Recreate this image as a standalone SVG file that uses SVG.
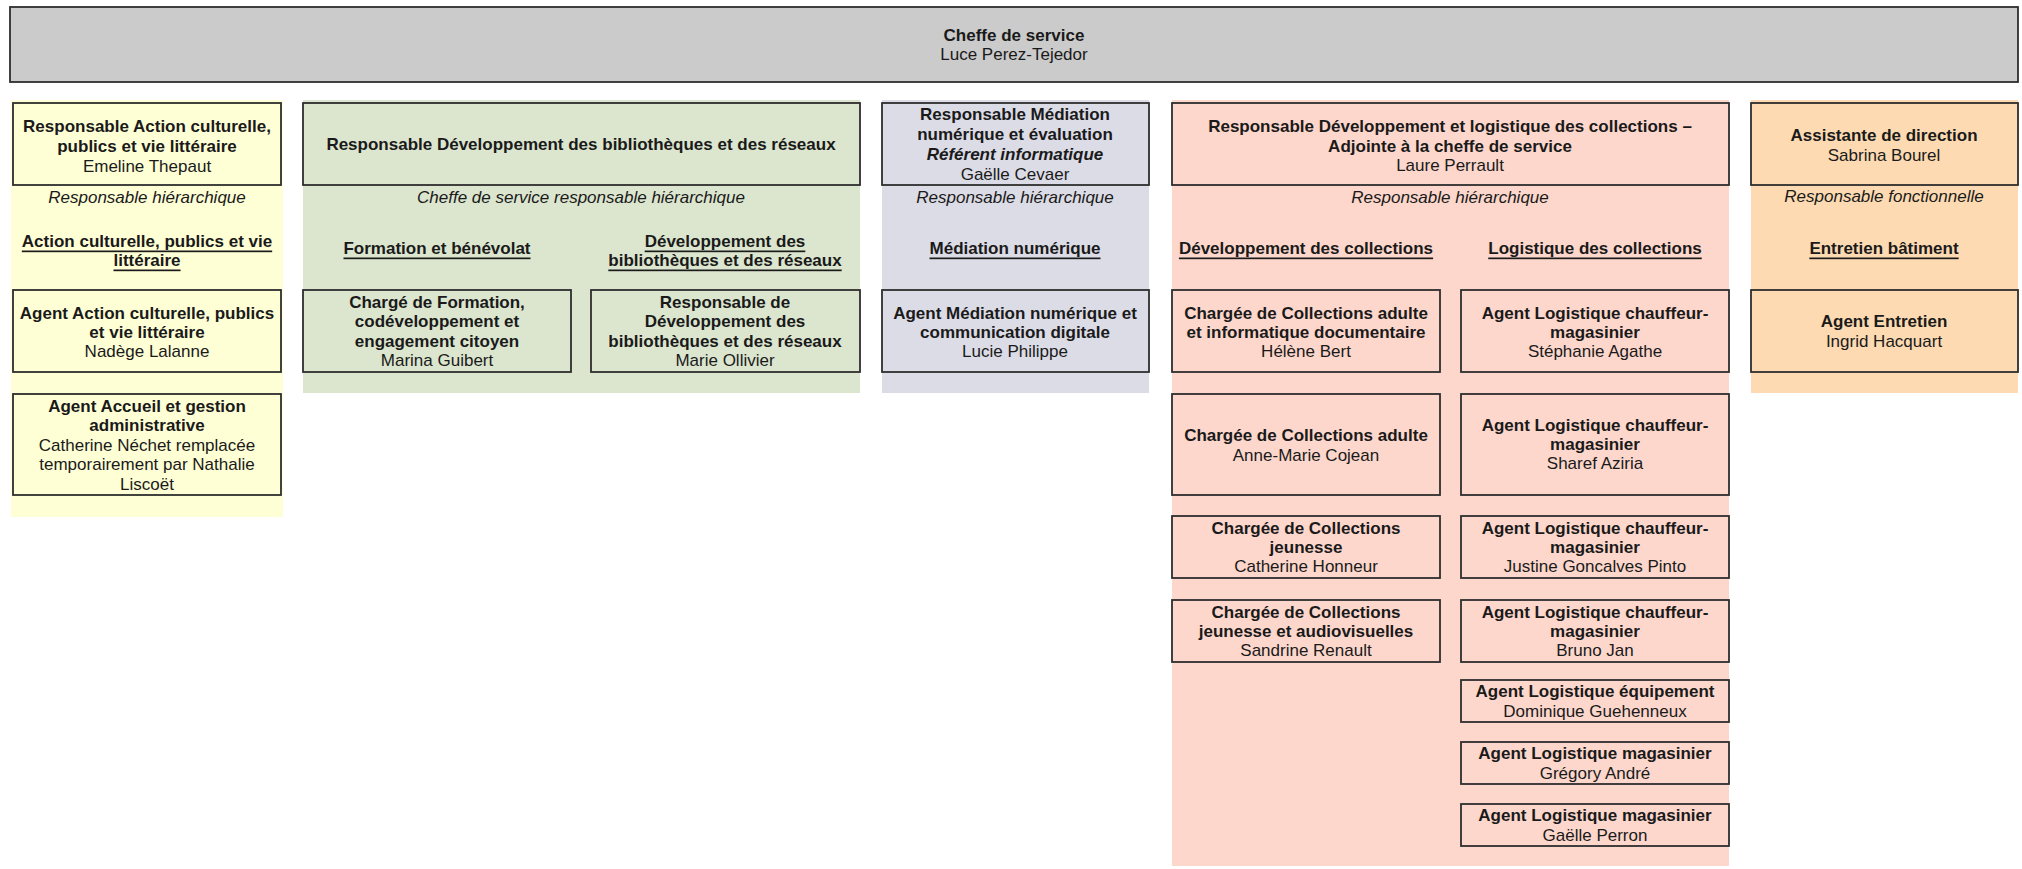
<svg xmlns="http://www.w3.org/2000/svg" width="2022" height="869" viewBox="0 0 2022 869">
<style>
text{font-family:"Liberation Sans",Arial,sans-serif;font-size:17px;fill:#1a1a1a;text-anchor:middle;dominant-baseline:central}
.b{font-weight:bold}
.i{font-style:italic}
.bi{font-weight:bold;font-style:italic}
.u{font-weight:bold;text-decoration:underline}
.box{stroke:#2e2e2e;stroke-width:1.8}
.top{fill:#cbcbcb}
.y{fill:#ffffd6}
.g{fill:#dce6cf}
.l{fill:#dcdce6}
.p{fill:#fdd7cc}
.o{fill:#fddab2}
</style>
<rect width="2022" height="869" fill="#ffffff"/>
<g id="chef">
<rect class="box top" x="10" y="7" width="2008" height="75"/>
<text class="b" x="1014" y="35">Cheffe de service</text>
<text x="1014" y="54">Luce Perez-Tejedor</text>
</g>
<g id="col-action-culturelle">
<rect class="y" x="11" y="100" width="272" height="417"/>
<g id="resp-action-culturelle">
<rect class="box y" x="13" y="103" width="268" height="82"/>
<text class="b" x="147" y="126">Responsable Action culturelle,</text>
<text class="b" x="147" y="146">publics et vie littéraire</text>
<text x="147" y="166">Emeline Thepaut</text>
</g>
<text class="i" x="147" y="197">Responsable hiérarchique</text>
<text class="u" x="147" y="241">Action culturelle, publics et vie</text>
<text class="u" x="147" y="260">littéraire</text>
<g id="agent-action-culturelle">
<rect class="box y" x="13" y="290" width="268" height="82"/>
<text class="b" x="147" y="313">Agent Action culturelle, publics</text>
<text class="b" x="147" y="332">et vie littéraire</text>
<text x="147" y="351">Nadège Lalanne</text>
</g>
<g id="agent-accueil">
<rect class="box y" x="13" y="394" width="268" height="101"/>
<text class="b" x="147" y="406">Agent Accueil et gestion</text>
<text class="b" x="147" y="425.5">administrative</text>
<text x="147" y="445">Catherine Néchet remplacée</text>
<text x="147" y="464.5">temporairement par Nathalie</text>
<text x="147" y="484">Liscoët</text>
</g>
</g>
<g id="col-developpement-bibliotheques">
<rect class="g" x="303" y="100" width="557" height="293"/>
<g id="resp-developpement-bibliotheques">
<rect class="box g" x="303" y="103" width="557" height="82"/>
<text class="b" x="581" y="144">Responsable Développement des bibliothèques et des réseaux</text>
</g>
<text class="i" x="581" y="197">Cheffe de service responsable hiérarchique</text>
<text class="u" x="437" y="248">Formation et bénévolat</text>
<text class="u" x="725" y="241">Développement des</text>
<text class="u" x="725" y="260">bibliothèques et des réseaux</text>
<g id="charge-formation">
<rect class="box g" x="303" y="290" width="268" height="82"/>
<text class="b" x="437" y="302">Chargé de Formation,</text>
<text class="b" x="437" y="321">codéveloppement et</text>
<text class="b" x="437" y="341">engagement citoyen</text>
<text x="437" y="360">Marina Guibert</text>
</g>
<g id="resp-developpement-reseaux">
<rect class="box g" x="591" y="290" width="269" height="82"/>
<text class="b" x="725" y="302">Responsable de</text>
<text class="b" x="725" y="321">Développement des</text>
<text class="b" x="725" y="341">bibliothèques et des réseaux</text>
<text x="725" y="360">Marie Ollivier</text>
</g>
</g>
<g id="col-mediation-numerique">
<rect class="l" x="882" y="100" width="267" height="293"/>
<g id="resp-mediation-numerique">
<rect class="box l" x="882" y="103" width="267" height="82"/>
<text class="b" x="1015" y="114">Responsable Médiation</text>
<text class="b" x="1015" y="134">numérique et évaluation</text>
<text class="bi" x="1015" y="154">Référent informatique</text>
<text x="1015" y="174">Gaëlle Cevaer</text>
</g>
<text class="i" x="1015" y="197">Responsable hiérarchique</text>
<text class="u" x="1015" y="248">Médiation numérique</text>
<g id="agent-mediation-numerique">
<rect class="box l" x="882" y="290" width="267" height="82"/>
<text class="b" x="1015" y="313">Agent Médiation numérique et</text>
<text class="b" x="1015" y="332">communication digitale</text>
<text x="1015" y="351">Lucie Philippe</text>
</g>
</g>
<g id="col-collections">
<rect class="p" x="1172" y="100" width="557" height="766"/>
<g id="resp-collections">
<rect class="box p" x="1172" y="103" width="557" height="82"/>
<text class="b" x="1450" y="126">Responsable Développement et logistique des collections –</text>
<text class="b" x="1450" y="146">Adjointe à la cheffe de service</text>
<text x="1450" y="165">Laure Perrault</text>
</g>
<text class="i" x="1450" y="197">Responsable hiérarchique</text>
<text class="u" x="1306" y="248">Développement des collections</text>
<text class="u" x="1595" y="248">Logistique des collections</text>
<g id="chargee-collections-adulte-info">
<rect class="box p" x="1172" y="290" width="268" height="82"/>
<text class="b" x="1306" y="313">Chargée de Collections adulte</text>
<text class="b" x="1306" y="332">et informatique documentaire</text>
<text x="1306" y="351">Hélène Bert</text>
</g>
<g id="chargee-collections-adulte">
<rect class="box p" x="1172" y="394" width="268" height="101"/>
<text class="b" x="1306" y="435">Chargée de Collections adulte</text>
<text x="1306" y="455">Anne-Marie Cojean</text>
</g>
<g id="chargee-collections-jeunesse">
<rect class="box p" x="1172" y="516" width="268" height="62"/>
<text class="b" x="1306" y="528">Chargée de Collections</text>
<text class="b" x="1306" y="547">jeunesse</text>
<text x="1306" y="566">Catherine Honneur</text>
</g>
<g id="chargee-collections-jeunesse-av">
<rect class="box p" x="1172" y="600" width="268" height="62"/>
<text class="b" x="1306" y="612">Chargée de Collections</text>
<text class="b" x="1306" y="631">jeunesse et audiovisuelles</text>
<text x="1306" y="650">Sandrine Renault</text>
</g>
<g id="agent-logistique-1">
<rect class="box p" x="1461" y="290" width="268" height="82"/>
<text class="b" x="1595" y="313">Agent Logistique chauffeur-</text>
<text class="b" x="1595" y="332">magasinier</text>
<text x="1595" y="351">Stéphanie Agathe</text>
</g>
<g id="agent-logistique-2">
<rect class="box p" x="1461" y="394" width="268" height="101"/>
<text class="b" x="1595" y="425">Agent Logistique chauffeur-</text>
<text class="b" x="1595" y="444">magasinier</text>
<text x="1595" y="463">Sharef Aziria</text>
</g>
<g id="agent-logistique-3">
<rect class="box p" x="1461" y="516" width="268" height="62"/>
<text class="b" x="1595" y="528">Agent Logistique chauffeur-</text>
<text class="b" x="1595" y="547">magasinier</text>
<text x="1595" y="566">Justine Goncalves Pinto</text>
</g>
<g id="agent-logistique-4">
<rect class="box p" x="1461" y="600" width="268" height="62"/>
<text class="b" x="1595" y="612">Agent Logistique chauffeur-</text>
<text class="b" x="1595" y="631">magasinier</text>
<text x="1595" y="650">Bruno Jan</text>
</g>
<g id="agent-logistique-equipement">
<rect class="box p" x="1461" y="680" width="268" height="42"/>
<text class="b" x="1595" y="691">Agent Logistique équipement</text>
<text x="1595" y="711">Dominique Guehenneux</text>
</g>
<g id="agent-logistique-magasinier-1">
<rect class="box p" x="1461" y="742" width="268" height="42"/>
<text class="b" x="1595" y="753">Agent Logistique magasinier</text>
<text x="1595" y="773">Grégory André</text>
</g>
<g id="agent-logistique-magasinier-2">
<rect class="box p" x="1461" y="804" width="268" height="42"/>
<text class="b" x="1595" y="815">Agent Logistique magasinier</text>
<text x="1595" y="835">Gaëlle Perron</text>
</g>
</g>
<g id="col-assistante">
<rect class="o" x="1751" y="100" width="267" height="293"/>
<g id="assistante-direction">
<rect class="box o" x="1751" y="103" width="267" height="82"/>
<text class="b" x="1884" y="135">Assistante de direction</text>
<text x="1884" y="155">Sabrina Bourel</text>
</g>
<text class="i" x="1884" y="196">Responsable fonctionnelle</text>
<text class="u" x="1884" y="248">Entretien bâtiment</text>
<g id="agent-entretien">
<rect class="box o" x="1751" y="290" width="267" height="82"/>
<text class="b" x="1884" y="321">Agent Entretien</text>
<text x="1884" y="341">Ingrid Hacquart</text>
</g>
</g>
<g id="connectors"/>
</svg>
